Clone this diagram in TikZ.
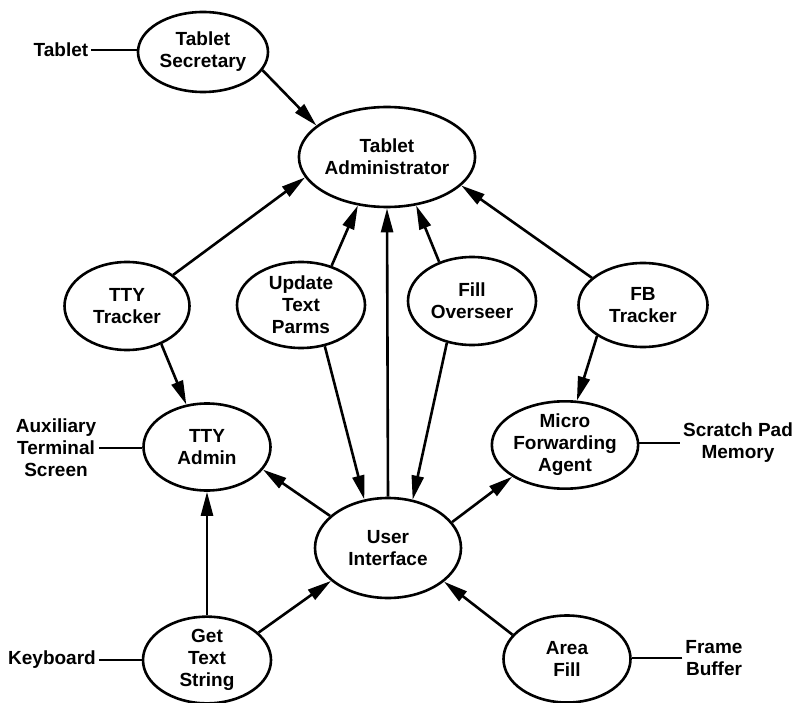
\documentclass[tikz,border=0pt]{standalone}
\usepackage{fontspec}
\setmainfont{Liberation Sans}
\usetikzlibrary{shapes.geometric,arrows.meta}
\begin{document}
\begin{tikzpicture}[x=1pt,y=-1pt,
  every node/.style={font=\fontsize{19}{22}\selectfont\bfseries, align=center},
  proc/.style={ellipse, draw, line width=2.6pt, inner sep=0pt},
  ext/.style={inner sep=3pt},
  flow/.style={line width=2.6pt, -{Triangle[length=24pt,width=12pt]}},
  tie/.style={line width=2.6pt}]
\useasboundingbox (0,0) rectangle (803,703);

% processes
\node[proc, minimum width=130pt, minimum height=80pt]  (sec)   at (203,52)  {Tablet\\Secretary};
\node[proc, minimum width=144pt, minimum height=100pt] (admin) at (387,157) {Tablet\\Administrator};
\node[proc, minimum width=125pt, minimum height=88pt]  (ttytr) at (127,306) {TTY\\Tracker};
\node[proc, minimum width=128pt, minimum height=86pt]  (utp)   at (301,305) {Update\\Text\\Parms};
\node[proc, minimum width=128pt, minimum height=88pt]  (fo)    at (472,301) {Fill\\Overseer};
\node[proc, minimum width=129pt, minimum height=84pt]  (fbt)   at (643,305) {FB\\Tracker};
\node[proc, minimum width=127pt, minimum height=87pt]  (ttyad) at (207,447) {TTY\\Admin};
\node[proc, minimum width=126pt, minimum height=86pt]  (mfa)   at (565,445) {Micro\\Forwarding\\Agent};
\node[proc, minimum width=146pt, minimum height=100pt] (ui)    at (388,548) {User\\Interface};
\node[proc, minimum width=128pt, minimum height=86pt]  (gts)   at (207,660) {Get\\Text\\String};
\node[proc, minimum width=127pt, minimum height=87pt]  (af)    at (567,659) {Area\\Fill};

% external devices
\node[ext] (tablet) at (61,50)   {Tablet};
\node[ext] (aux)    at (56,448)  {Auxiliary\\Terminal\\Screen};
\node[ext] (spm)    at (738,443) {Scratch Pad\\Memory};
\node[ext] (kb)     at (52,660)  {Keyboard};
\node[ext] (fbuf)   at (714,658) {Frame\\Buffer};

\draw[tie] (tablet.east) -- (tablet.east -| sec.west);
\draw[tie] (aux.east) -- (aux.east -| ttyad.west);
\draw[tie] (spm.west) -- (spm.west -| mfa.east);
\draw[tie] (kb.east) -- (kb.east -| gts.west);
\draw[tie] (fbuf.west) -- (fbuf.west -| af.east);

% message flows
\draw[flow] (sec.-17)    -- (admin.156);
\draw[flow] (ttytr.34.5) -- (admin.-166.7);
\draw[flow] (utp.52.7)   -- (admin.-121);
\draw[flow] (ui.north)   -- (admin.south);
\draw[flow] (fo.130)     -- (admin.-59.7);
\draw[flow] (fbt.152.2)  -- (admin.-21.8);
\draw[flow] (ttytr.-48)  -- (ttyad.116.6);
\draw[flow] (utp.-60.3)  -- (ui.116.6);
\draw[flow] (fo.-121.5)  -- (ui.63.4);
\draw[flow] (fbt.-146.3) -- (mfa.75);
\draw[flow] (ui.151)     -- (ttyad.-22.3);
\draw[flow] (ui.22.9)    -- (mfa.-149.7);
\draw[flow] (gts.north)  -- (ttyad.south);
\draw[flow] (gts.28.8)   -- (ui.-150.3);
\draw[flow] (af.156)     -- (ui.-31);
\end{tikzpicture}
\end{document}
